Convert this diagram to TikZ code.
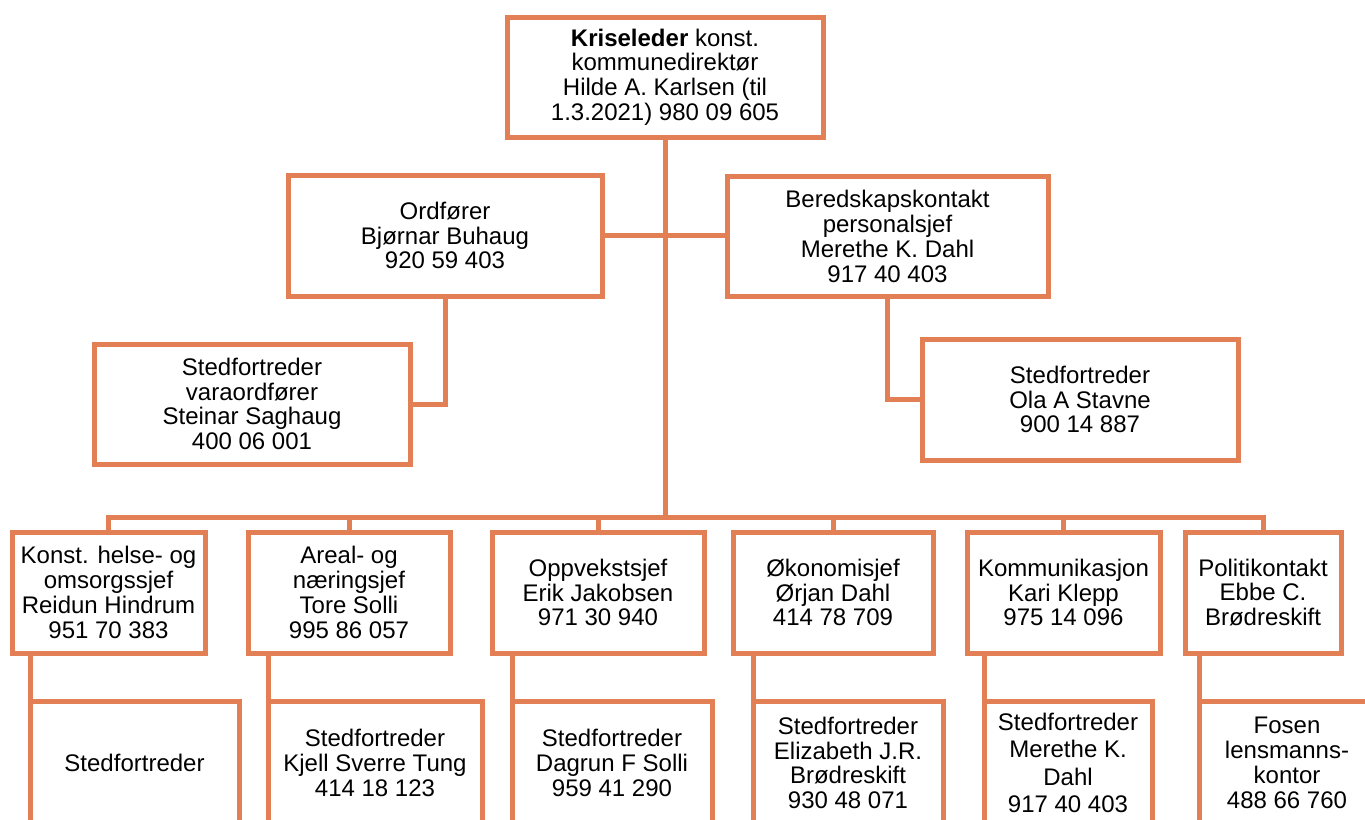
\documentclass[tikz,border=0pt]{standalone}
\usepackage{fontspec}
\setmainfont{Liberation Sans}
\usepackage{tikz}
\usetikzlibrary{calc}

\definecolor{orgline}{RGB}{226,127,85}
\tikzset{
  box/.style={draw=orgline, line width=2.5pt, align=center, inner sep=0pt, outer sep=0pt,
    font=\fontsize{12}{12.4}\selectfont},
  wh/.style 2 args={minimum width=#1*0.5pt, minimum height=#2*0.5pt},
  link/.style={draw=orgline, line width=2.5pt}
}

\begin{document}
\begin{tikzpicture}[x=0.5pt,y=-0.5pt]
\clip (0,0) rectangle (1365,819);
\fill[white] (0,0) rectangle (1365,819);

% top level
\node (krise) [box, wh={316}{120}] at (665,77) {\textbf{Kriseleder} konst.\\ kommunedirektør\\ Hilde A. Karlsen (til\\ 1.3.2021) 980 09 605};
\node (ord) [box, wh={314}{121}] at (445,235.5) {Ordfører\\ Bjørnar Buhaug\\ 920 59 403};
\node (bered) [box, wh={321}{120}] at (887.5,236.5) {Beredskapskontakt\\ personalsjef\\ Merethe K. Dahl\\ 917 40 403};
\node (vara) [box, wh={316}{120}] at (252,404) {Stedfortreder\\ varaordfører\\ Steinar Saghaug\\ 400 06 001};
\node (ola) [box, wh={316}{121}] at (1080,399.5) {Stedfortreder\\ Ola A Stavne\\ 900 14 887};

% second row
\node (helse) [box, wh={193}{121}] at (108.5,592.5) {Konst. helse- og\\ omsorgssjef\\ Reidun Hindrum\\ 951 70 383};
\node (areal) [box, wh={202}{121}] at (349,592.5) {Areal- og\\ næringsjef\\ Tore Solli\\ 995 86 057};
\node (oppv) [box, wh={212}{121}] at (598,592.5) {Oppvekstsjef\\ Erik Jakobsen\\ 971 30 940};
\node (okon) [box, wh={200}{121}] at (833,592.5) {Økonomisjef\\ Ørjan Dahl\\ 414 78 709};
\node (komm) [box, wh={193}{121}] at (1063.5,592.5) {Kommunikasjon\\ Kari Klepp\\ 975 14 096};
\node (polit) [box, wh={156}{121}] at (1263,592.5) {Politikontakt\\ Ebbe C.\\ Brødreskift};

% stedfortredere (cut off at the bottom)
\node (sthelse) [box, wh={209}{124}] at (134.5,763) {Stedfortreder};
\node (stareal) [box, wh={214}{124}] at (375,763) {Stedfortreder\\ Kjell Sverre Tung\\ 414 18 123};
\node (stoppv) [box, wh={200}{124}] at (612,763) {Stedfortreder\\ Dagrun F Solli\\ 959 41 290};
\node (stokon) [box, wh={190}{124}] at (848,763) {Stedfortreder\\ Elizabeth J.R.\\ Brødreskift\\ 930 48 071};
\node (stkomm) [box, wh={168}{124}, font=\fontsize{12}{13.8}\selectfont] at (1068,763) {Stedfortreder\\ Merethe K.\\ Dahl\\ 917 40 403};
\node (fosen) [box, wh={176}{124}] at (1287,763) {Fosen\\ lensmanns-\\ kontor\\ 488 66 760};

% connectors
\coordinate (bus) at (665,517);
\draw [link] (krise.south) -- (bus);
\draw [link] (ord.east) -- (bered.west |- ord.east);
\draw [link] (ord.south) |- (vara.east);
\draw [link] (bered.south) |- (ola.west);
\draw [link] (helse.north) -- (helse.north |- bus) -- (polit.north |- bus) -- (polit.north);
\draw [link] (areal.north) -- (areal.north |- bus);
\draw [link] (oppv.north) -- (oppv.north |- bus);
\draw [link] (okon.north) -- (okon.north |- bus);
\draw [link] (komm.north) -- (komm.north |- bus);

\draw [link] (sthelse.north west |- helse.south) -- (sthelse.north west);
\draw [link] (stareal.north west |- areal.south) -- (stareal.north west);
\draw [link] (stoppv.north west |- oppv.south) -- (stoppv.north west);
\draw [link] (stokon.north west |- okon.south) -- (stokon.north west);
\draw [link] (stkomm.north west |- komm.south) -- (stkomm.north west);
\draw [link] (fosen.north west |- polit.south) -- (fosen.north west);
\end{tikzpicture}
\end{document}
